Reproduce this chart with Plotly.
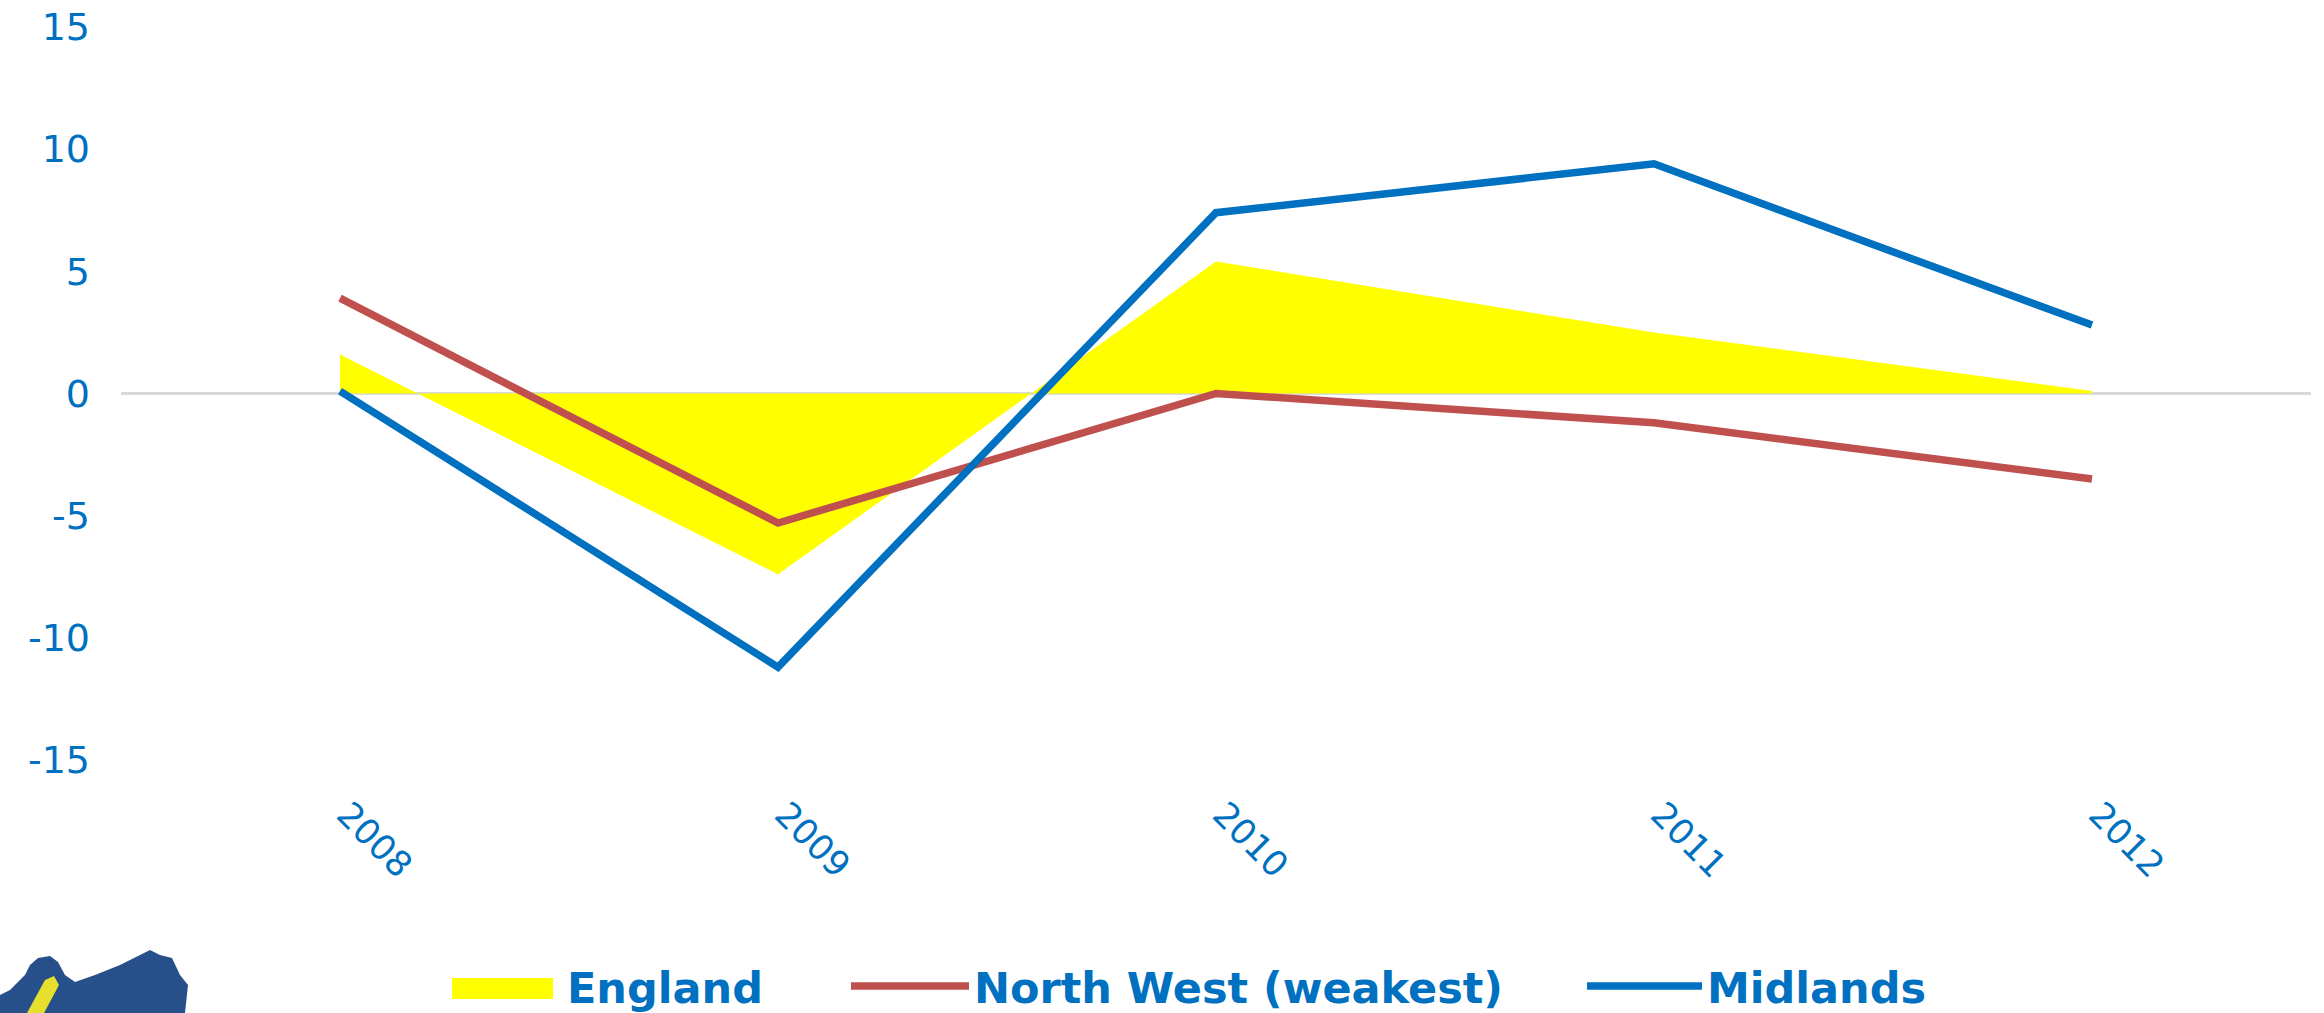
import plotly.graph_objects as go

# ---- data ----
years = ["2008", "2009", "2010", "2011", "2012"]
england = [1.6, -7.4, 5.4, 2.5, 0.1]
north_west = [3.9, -5.3, 0.0, -1.2, -3.5]
midlands = [0.1, -11.2, 7.4, 9.4, 2.8]
y_tickvals = [-15, -10, -5, 0, 5, 10, 15]
y_ticktext = ["-15", "-10", "-5", "0", "5", "10", "15"]

W, H = 2324, 1013
ML, MR, MT, MB = 121, 13, 27, 253
PW, PH = W - ML - MR, H - MT - MB

BLUE_TXT = "#0070C0"
FONT = "DejaVu Sans"

fig = go.Figure()
fig.add_trace(go.Scatter(
    x=years, y=england, name="England", mode="none",
    fill="tozeroy", fillcolor="#FFFF00", legend="legend",
))
fig.add_trace(go.Scatter(
    x=years, y=north_west, name="North West (weakest)", mode="lines",
    line=dict(width=7.5, color="#C0504D"), legend="legend2",
))
fig.add_trace(go.Scatter(
    x=years, y=midlands, name="Midlands", mode="lines",
    line=dict(width=7.5, color="#0070C0"), legend="legend3",
))


def px2paper(px, py):
    return (px - ML) / PW, (MT + PH - py) / PH


def path(points):
    parts = []
    for i, (px, py) in enumerate(points):
        x, y = px2paper(px, py)
        parts.append(("M" if i == 0 else "L") + f"{x:.5f},{y:.5f}")
    return " ".join(parts) + " Z"


logo_blue = [(0, 1013), (0, 995), (10, 990), (25, 975), (30, 965), (38, 958), (50, 956),
             (58, 962), (65, 975), (75, 982), (95, 975), (120, 965), (140, 955), (150, 950),
             (160, 955), (172, 958), (180, 975), (188, 985), (185, 1013)]
logo_yellow = [(27, 1013), (45, 980), (54, 976), (59, 985), (44, 1013)]

shapes = [
    dict(type="path", xref="paper", yref="paper", path=path(logo_blue),
         fillcolor="#27508A", line=dict(width=0), layer="above"),
    dict(type="path", xref="paper", yref="paper", path=path(logo_yellow),
         fillcolor="#E6DF2E", line=dict(width=0), layer="above"),
]


def legend_at(px, py, itemwidth):
    x, y = px2paper(px, py)
    return dict(
        orientation="h", x=x, y=y, xanchor="left", yanchor="middle",
        font=dict(family=FONT, size=43, color=BLUE_TXT, weight="bold"),
        itemwidth=itemwidth, bgcolor="rgba(0,0,0,0)", borderwidth=0,
    )


fig.update_layout(
    width=W, height=H,
    margin=dict(l=ML, r=MR, t=MT, b=MB, autoexpand=False),
    paper_bgcolor="white", plot_bgcolor="white",
    font=dict(family=FONT, color=BLUE_TXT),
    showlegend=True,
    legend=legend_at(447, 986, 110),
    legend2=legend_at(846, 986, 118),
    legend3=legend_at(1582, 986, 115),
    xaxis=dict(
        type="category", range=[-0.5, 4.5], showgrid=False, zeroline=False,
        showline=False, ticks="", tickangle=45,
        tickfont=dict(family=FONT, size=35, color=BLUE_TXT),
        ticklabelstandoff=26, ticklabelshift=7, fixedrange=True,
    ),
    yaxis=dict(
        range=[-15, 15], tickvals=y_tickvals, ticktext=y_ticktext,
        showgrid=False, zeroline=True, zerolinecolor="#D9D9D9", zerolinewidth=2.5,
        showline=False, ticks="",
        tickfont=dict(family=FONT, size=38, color=BLUE_TXT),
        ticklabelstandoff=30, fixedrange=True,
    ),
    shapes=shapes,
)

post = """
document.body.style.margin='0';document.body.style.overflow='hidden';
var gd = document.getElementById('{plot_id}');
function fixLeg(){
  document.querySelectorAll('.legendfill path.js-fill').forEach(function(p){
    p.setAttribute('d','M5,-8h101v21h-101z');
  });
}
fixLeg(); setTimeout(fixLeg, 30);
if (gd && gd.on) { gd.on('plotly_afterplot', fixLeg); }
"""

fig.write_html("out.html", config={"displayModeBar": False}, post_script=post)
